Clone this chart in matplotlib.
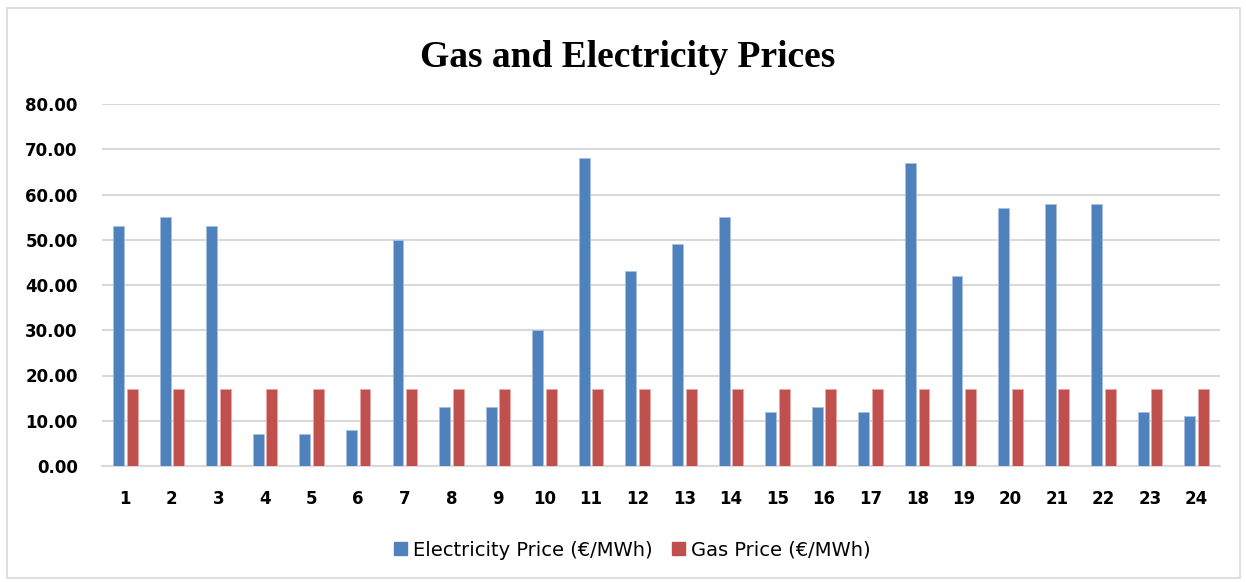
import matplotlib
matplotlib.use("Agg")
import matplotlib.pyplot as plt
import numpy as np
from matplotlib.patches import Rectangle, Patch

hours = [str(i) for i in range(1, 25)]
electricity = [53, 55, 53, 7, 7, 8, 50, 13, 13, 30, 68, 43, 49, 55, 12, 13, 12, 67, 42, 57, 58, 58, 12, 11]
gas = [17] * 24
yticks = [0, 10, 20, 30, 40, 50, 60, 70, 80]

blue = "#4F81BD"
red = "#C0504D"
grid = "#D9D9D9"

fig = plt.figure(figsize=(12.46, 5.82), dpi=100)
fig.patches.append(Rectangle((6.5/1246, 4/582), 1233/1246, 570/582, transform=fig.transFigure,
                             fill=False, edgecolor=grid, linewidth=1.2))

ax = fig.add_axes([102/1246, 1 - 466/582, (1220-102)/1246, (466-104)/582])
x = np.arange(len(hours))
w = 0.235
off = 0.146
ax.bar(x - off, electricity, width=w, color=blue, edgecolor="#A9C1E0", linewidth=0.6, zorder=3,
       label="Electricity Price (€/MWh)")
ax.bar(x + off, gas, width=w, color=red, edgecolor="#E5A9A8", linewidth=0.6, zorder=3,
       label="Gas Price (€/MWh)")

ax.set_xlim(-0.5, len(hours) - 0.5)
ax.set_ylim(0, 80)
ax.set_yticks(yticks)
ax.set_yticklabels([f"{v:.2f}" for v in yticks], fontsize=12, fontweight="bold", family="DejaVu Sans")
ax.set_xticks(x)
ax.set_xticklabels(hours, fontsize=12, fontweight="bold", family="DejaVu Sans")
ax.tick_params(axis="both", length=0, colors="black")
ax.tick_params(axis="y", pad=17.5)
ax.tick_params(axis="x", pad=17)
ax.yaxis.grid(True, color=grid, linewidth=1.5, zorder=0)
for s in ["top", "right", "left"]:
    ax.spines[s].set_visible(False)
ax.spines["bottom"].set_color(grid)
ax.spines["bottom"].set_linewidth(1.5)

fig.text(628/1246, 1 - 67/582, "Gas and Electricity Prices", ha="center", va="baseline",
         fontsize=27, fontweight="bold", family="Liberation Serif")

handles = [Patch(color=blue), Patch(color=red)]
fig.legend(handles, ["Electricity Price (€/MWh)", "Gas Price (€/MWh)"], loc="center",
           bbox_to_anchor=(632/1246, 1 - 550/582), ncol=2, frameon=False,
           prop={"family": "DejaVu Sans", "size": 14}, handlelength=0.68, handleheight=0.68,
           handletextpad=0.3, columnspacing=1.0)

fig.savefig("out.png", dpi=100)
